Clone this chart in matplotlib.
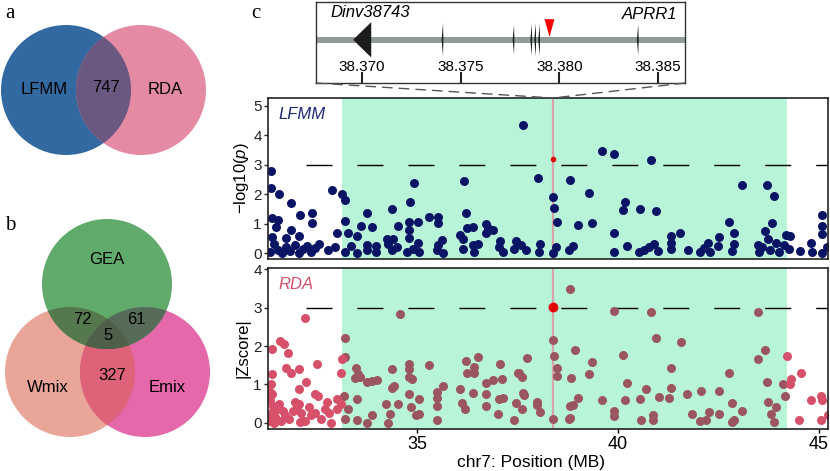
import numpy as np
import matplotlib.pyplot as plt
from matplotlib.patches import Circle, Polygon, ConnectionPatch

plt.rcParams['font.family'] = ['Liberation Sans', 'DejaVu Sans']
plt.rcParams['mathtext.fontset'] = 'custom'
plt.rcParams['mathtext.rm'] = 'Liberation Sans'
plt.rcParams['mathtext.it'] = 'Liberation Sans:italic'
plt.rcParams['lines.scale_dashes'] = False

# ---- data ----
venn_a_sets = ['LFMM', 'RDA']
venn_a_shared = 747
venn_b_sets = ['GEA', 'Wmix', 'Emix']
venn_b_gw, venn_b_ge, venn_b_gwe, venn_b_we = 72, 61, 5, 327

snp_pos = 38.3795
region = (33.13, 44.2)
threshold = 3
lfmm_snp = 3.19
rda_snp = 3.02

lfmm_points = [
    (31.35, 2.78), (31.35, 2.21), (31.56, 2.02), (31.85, 1.71), (31.39, 1.18), (31.52, 1.13),
    (31.48, 0.90), (31.85, 0.79), (32.08, 1.28), (32.37, 1.35), (32.37, 1.03), (32.04, 0.57),
    (31.74, 0.50), (31.39, 0.56), (32.87, 2.15), (33.12, 2.02), (33.2, 1.81), (33.2, 1.08),
    (33.01, 0.67), (33.28, 0.68), (33.49, 0.57), (33.59, 0.92), (33.75, 1.37), (33.87, 0.88),
    (33.74, 0.27), (33.97, 0.25), (34.37, 1.50), (34.53, 0.93), (34.4, 0.48), (34.24, 0.48),
    (34.91, 2.38), (34.81, 1.75), (34.78, 1.05), (34.78, 0.79), (35.02, 1.07), (35.02, 0.34),
    (34.78, 0.53), (35.29, 1.22), (35.51, 1.22), (35.51, 1.03), (35.62, 0.44), (35.51, 0.27),
    (36.17, 2.44), (36.2, 1.35), (36.24, 0.84), (36.39, 0.88), (36.07, 0.62), (36.13, 0.48),
    (36.38, 0.28), (36.72, 0.99), (36.76, 0.85), (36.89, 0.80), (36.7, 0.70), (37.07, 0.42),
    (37.45, 0.40), (37.62, 4.35), (38.01, 2.56), (38.8, 2.49), (38.38, 1.90), (38.4, 1.52),
    (38.49, 1.05), (38.99, 0.97), (39.28, 2.05), (39.34, 1.01), (39.59, 3.46), (39.9, 3.37),
    (39.9, 0.70), (40.18, 1.75), (40.13, 1.47), (40.55, 1.49), (40.95, 1.43), (40.81, 3.17),
    (41.32, 0.59), (41.32, 0.36), (41.55, 0.70), (42.51, 0.56), (42.76, 1.05), (42.9, 0.67),
    (43.09, 2.30), (43.7, 2.32), (43.89, 1.94), (43.84, 1.03), (43.66, 0.74), (43.74, 0.48),
    (43.93, 0.34), (44.18, 0.63), (44.28, 0.57), (44.8, 0.33), (45.09, 1.30), (45.07, 0.91),
    (45.07, 0.65), (38.05, 0.31), (42.24, 0.36), (43.49, 0.28),
    (31.33, 0.05), (31.43, 0.30), (31.53, 0.12), (31.63, 0.02), (31.73, 0.20), (31.83, 0.08),
    (31.95, 0.28), (32.05, 0.00), (32.15, 0.15), (32.25, 0.25), (32.35, 0.05), (32.45, 0.18),
    (32.55, 0.30), (32.78, 0.10), (32.95, 0.22), (33.2, 0.05), (33.35, 0.25), (33.5, 0.02),
    (33.75, 0.10), (33.97, 0.05), (34.28, 0.30), (34.38, 0.10), (34.5, 0.20), (34.75, 0.03),
    (34.88, 0.15), (35.03, 0.05), (35.5, 0.10), (35.65, 0.02), (36.13, 0.15), (36.4, 0.05),
    (36.5, 0.30), (37.03, 0.20), (37.13, 0.05), (37.4, 0.15), (37.58, 0.28), (37.7, 0.10),
    (38.03, 0.05), (38.38, 0.02), (38.45, 0.20), (38.78, 0.10), (38.88, 0.25), (39.9, 0.05),
    (40.22, 0.25), (40.52, 0.03), (40.65, 0.12), (40.77, 0.20), (40.9, 0.30), (41.0, 0.08),
    (41.33, 0.15), (41.75, 0.10), (42.03, 0.03), (42.15, 0.18), (42.28, 0.05), (42.5, 0.25),
    (42.83, 0.08), (42.9, 0.30), (43.5, 0.05), (43.58, 0.22), (43.78, 0.10), (44.0, 0.03),
    (44.13, 0.28), (44.25, 0.15), (44.53, 0.08), (44.83, 0.05), (45.08, 0.02), (45.2, 0.20),
]

rda_points = [
    (32.2, 2.72), (34.575, 2.83), (31.575, 2.13), (31.68, 2.04), (31.39, 1.91), (31.77, 1.81),
    (31.39, 1.26), (31.74, 1.43), (31.86, 1.29), (32.05, 1.39), (32.51, 1.52), (32.22, 1.07),
    (31.36, 1.00), (31.39, 0.75), (32.05, 0.87), (32.45, 0.75), (32.53, 0.70), (32.76, 0.55),
    (33.01, 0.61), (33.09, 1.29), (33.12, 1.65), (33.2, 2.22), (33.2, 1.72), (33.17, 0.70),
    (33.28, 0.35), (33.2, 0.10), (33.46, 1.43), (33.45, 1.17), (33.53, 1.26), (33.57, 1.20),
    (33.49, 0.62), (33.49, 0.07), (33.74, 1.07), (33.87, 1.09), (33.99, 1.11), (33.87, 0.20),
    (33.74, 0.00), (34.22, 0.49), (34.31, 0.24), (34.28, 0.00), (34.37, 1.40), (34.41, 0.97),
    (34.38, 0.90), (34.53, 0.48), (34.78, 1.52), (34.8, 1.40), (34.78, 1.20), (34.87, 1.13),
    (34.78, 0.75), (34.83, 0.42), (34.96, 0.20), (35.03, 0.61), (35.05, 0.22), (35.3, 1.50),
    (35.49, 0.81), (35.5, 0.64), (35.5, 0.44), (35.49, 0.07), (35.64, 0.97), (36.21, 1.61),
    (36.41, 1.46), (36.52, 1.72), (36.24, 1.29), (36.4, 1.29), (36.07, 0.87), (36.11, 0.51),
    (36.18, 0.36), (36.39, 0.78), (36.72, 1.04), (36.89, 1.11), (36.72, 0.75), (36.72, 0.44),
    (37.07, 1.52), (37.1, 1.13), (37.03, 0.61), (37.13, 0.64), (37.01, 0.22), (37.4, 0.07),
    (37.45, 0.51), (37.52, 1.29), (38.8, 3.48), (39.9, 2.91), (40.82, 2.89), (43.49, 2.88),
    (40.95, 2.22), (41.56, 2.10), (38.38, 2.16), (38.92, 1.90), (38.4, 1.75), (37.74, 1.68),
    (39.34, 1.59), (40.13, 1.77), (43.66, 1.90), (43.49, 1.66), (44.22, 1.75), (38.49, 1.43),
    (38.47, 1.23), (38.83, 1.18), (39.28, 1.26), (37.53, 1.30), (37.61, 1.20), (41.32, 1.44),
    (42.76, 1.31), (44.55, 1.29), (44.3, 1.13), (44.28, 1.01), (44.1, 1.01), (43.7, 1.07),
    (40.22, 1.03), (40.7, 0.87), (41.32, 0.92), (42.07, 0.83), (42.51, 0.83), (37.64, 0.78),
    (37.66, 0.72), (39.01, 0.65), (38.89, 0.46), (38.8, 0.43), (39.6, 0.59), (40.18, 0.59),
    (40.55, 0.61), (41.03, 0.68), (41.26, 0.65), (41.73, 0.74), (44.16, 0.70), (44.81, 0.59),
    (45.06, 0.70), (45.08, 0.59), (37.61, 0.36), (37.97, 0.53), (37.99, 0.46), (38.05, 0.29),
    (38.37, 0.09), (38.78, 0.10), (38.81, 0.12), (39.9, 0.30), (39.9, 0.17), (40.86, 0.20),
    (40.88, 0.07), (40.58, 0.07), (41.83, 0.22), (42.03, 0.05), (42.18, 0.07), (42.26, 0.29),
    (42.51, 0.24), (42.85, 0.51), (42.83, 0.03), (42.88, 0.07), (43.1, 0.31), (43.74, 0.53),
    (43.93, 0.42), (43.82, 0.22), (43.89, 0.03), (44.51, 0.07), (45.06, 0.07), (45.22, 0.20),
    (31.30, 0.05), (31.35, 0.25), (31.40, 0.45), (31.32, 0.60), (31.45, 0.15), (31.50, 0.35),
    (31.55, 0.50), (31.60, 0.05), (31.65, 0.30), (31.70, 0.20), (31.42, 0.00), (31.80, 0.10),
    (31.90, 0.30), (31.95, 0.55), (32.00, 0.45), (32.10, 0.25), (32.15, 0.05), (32.05, 0.50),
    (32.30, 0.42), (32.35, 0.20), (32.08, 0.02), (32.20, 0.05), (32.45, 0.25), (32.80, 0.25),
    (32.85, 0.00), (33.00, 0.35), (33.10, 0.48), (32.60, 0.10), (32.70, 0.35), (31.33, 0.80),
]

gene_ticks = [38.370, 38.375, 38.380, 38.385]
gene_xlim = (38.36766, 38.38637)
dinv_gene = (38.36954, 38.37046)
small_exons = [38.3741, 38.3777, 38.3786, 38.3788, 38.3790, 38.3840]
exon_heights = [17, 15, 16, 17, 16, 16]

navy = '#0a1464'
mint = '#b8f5d8'
rda_in = '#9b555f'
rda_out = '#d7506a'

W, H = 830, 471
fig = plt.figure(figsize=(8.3, 4.71), dpi=100)


def fa(l, t, r, b):
    return [l / W, 1 - b / H, (r - l) / W, (b - t) / H]


ax1 = fig.add_axes(fa(268, 98, 828, 259))
ax2 = fig.add_axes(fa(268, 268, 828, 429))
axg = fig.add_axes(fa(316, 1.5, 685, 83))
axv = fig.add_axes([0, 0, 220 / W, 1])

xlim = (31.28, 45.23)

# ---- LFMM ----
lx, ly = zip(*lfmm_points)
ax1.axvspan(*region, color=mint, lw=0, zorder=0)
ax1.axvline(snp_pos, color='#d9a3aa', lw=1.6, zorder=1)
ax1.axhline(threshold, xmin=0.068, color='k', lw=1, ls=(0, (18.7, 18)), zorder=1)
ax1.scatter(lx, ly, s=42, color=navy, lw=0, zorder=2)
ax1.scatter([snp_pos], [lfmm_snp], s=16, color='#e00000', lw=0, zorder=3)
ax1.set_xlim(xlim)
ax1.set_ylim(-0.2, 5.27)
ax1.set_yticks([0, 1, 2, 3, 4, 5])
ax1.set_xticks([])
ax1.set_ylabel(r'$\mathregular{-log10(}\mathit{p}\mathregular{)}$', fontsize=12)
ax1.yaxis.set_label_coords(-0.03, 0.5)
ax1.text(0.018, 0.9, 'LFMM', transform=ax1.transAxes, color='#1f2a7a',
         style='italic', fontsize=12, va='center')

# ---- RDA ----
rx, ry = zip(*rda_points)
rx = np.array(rx)
ry = np.array(ry)
inside = (rx >= region[0]) & (rx <= region[1])
ax2.axvspan(*region, color=mint, lw=0, zorder=0)
ax2.axvline(snp_pos, color='#d9a3aa', lw=1.6, zorder=1)
ax2.axhline(threshold, xmin=0.068, color='k', lw=1, ls=(0, (18.7, 18)), zorder=1)
ax2.scatter(rx[inside], ry[inside], s=42, color=rda_in, lw=0, zorder=2)
ax2.scatter(rx[~inside], ry[~inside], s=42, color=rda_out, lw=0, zorder=2)
ax2.scatter([snp_pos], [rda_snp], s=50, color='#e00000', lw=0, zorder=3)
ax2.set_xlim(xlim)
ax2.set_ylim(-0.16, 4.03)
ax2.set_yticks([0, 1, 2, 3, 4])
ax2.set_xticks([35, 40, 45])
ax2.set_ylabel('|Zscore|', fontsize=12)
ax2.yaxis.set_label_coords(-0.032, 0.5)
ax2.set_xlabel('chr7: Position (MB)', fontsize=12.5)
ax2.xaxis.set_label_coords(0.47, -0.16)
ax2.text(0.018, 0.9, 'RDA', transform=ax2.transAxes, color=rda_out,
         style='italic', fontsize=12, va='center')

for ax in (ax1, ax2):
    for sp in ax.spines.values():
        sp.set_linewidth(1.2)
        sp.set_color('#222222')
    ax.tick_params(axis='y', length=3, width=1, labelsize=11, pad=1.5, colors='#222222')
ax2.tick_params(axis='x', length=3, width=1, labelsize=13, pad=2)

# ---- gene track ----
axg.set_xlim(gene_xlim)
axg.set_ylim(83, 0)
axg.axhspan(36, 42, color='#909b97', lw=0, zorder=1)
axg.add_patch(Polygon([(dinv_gene[0], 39), (dinv_gene[1], 21), (dinv_gene[1], 57)],
                      closed=True, color='#1c1c1c', lw=0, zorder=2))
for ex, hh in zip(small_exons, exon_heights):
    w = 0.00007
    axg.add_patch(Polygon([(ex - w, 39), (ex, 39 - hh), (ex + w * 0.3, 39), (ex, 39 + hh)],
                          closed=True, color='#1c1c1c', lw=0, zorder=2))
axg.add_patch(Polygon([(snp_pos - 0.00025, 18), (snp_pos + 0.00025, 18), (snp_pos, 36)],
                      closed=True, color='#ff0000', lw=0, zorder=3))
axg.set_xticks(gene_ticks)
axg.set_yticks([])
axg.tick_params(axis='x', direction='in', length=8, width=1.5, labelbottom=False, colors='#222222')
for t in gene_ticks:
    axg.text(t, 67, f'{t:.3f}', ha='center', va='center', fontsize=11)
axg.text(38.3684, 11, 'Dinv38743', style='italic', fontsize=12, ha='left', va='center')
axg.text(38.38597, 13, 'APRR1', style='italic', fontsize=12, ha='right', va='center')
for sp in axg.spines.values():
    sp.set_linewidth(1)
    sp.set_color('#333333')

for xyA in [(0, 0), (1, 0)]:
    con = ConnectionPatch(xyA=xyA, coordsA=axg.transAxes,
                          xyB=(snp_pos, ax1.get_ylim()[1]), coordsB=ax1.transData,
                          color='#555555', lw=1, ls=(0, (7, 5)))
    fig.add_artist(con)

# ---- venn diagrams ----
axv.set_xlim(0, 220)
axv.set_ylim(471, 0)
axv.axis('off')


def lens(c1, r1, c2, r2, n=400):
    th = np.linspace(0, 2 * np.pi, n)
    p1 = np.c_[c1[0] + r1 * np.cos(th), c1[1] + r1 * np.sin(th)]
    p2 = np.c_[c2[0] + r2 * np.cos(th), c2[1] + r2 * np.sin(th)]
    p1 = p1[np.hypot(p1[:, 0] - c2[0], p1[:, 1] - c2[1]) <= r2]
    p2 = p2[np.hypot(p2[:, 0] - c1[0], p2[:, 1] - c1[1]) <= r1]
    pts = np.vstack([p1, p2])
    m = pts.mean(axis=0)
    order = np.argsort(np.arctan2(pts[:, 1] - m[1], pts[:, 0] - m[0]))
    return pts[order]


# a
ca, cb, r = (66, 90), (141, 90), 65
A = Circle(ca, r, fc='#3269a0', ec='none', zorder=1)
B = Circle(cb, r, fc='#e58aa3', ec='none', zorder=1)
axv.add_patch(A)
axv.add_patch(B)
AB = Circle(cb, r, fc='#6a5880', ec='none', zorder=2)
axv.add_patch(AB)
AB.set_clip_path(A)
axv.text(44, 90, venn_a_sets[0], fontsize=12, ha='center', va='center', zorder=5)
axv.text(165, 90, venn_a_sets[1], fontsize=12, ha='center', va='center', zorder=5)
axv.text(106, 88, str(venn_a_shared), fontsize=12, ha='center', va='center', zorder=5)

# b
cg, cw, ce, rb = (107, 284), (70, 372), (145, 372), 65
Wc = Circle(cw, rb, fc='#e9a598', ec='none', zorder=1)
Ec = Circle(ce, rb, fc='#e468aa', ec='none', zorder=1)
Gc = Circle(cg, rb, fc='#60aa6b', ec='none', zorder=1)
for p in (Wc, Ec, Gc):
    axv.add_patch(p)
WE = Circle(ce, rb, fc='#de6278', ec='none', zorder=2)
axv.add_patch(WE)
WE.set_clip_path(Wc)
GW = Circle(cg, rb, fc='#55784e', ec='none', zorder=2)
axv.add_patch(GW)
GW.set_clip_path(Wc)
GE = Circle(cg, rb, fc='#566c58', ec='none', zorder=2)
axv.add_patch(GE)
GE.set_clip_path(Ec)
GWE = Polygon(lens(cg, rb, cw, rb), closed=True, fc='#4e6048', ec='none', zorder=3)
axv.add_patch(GWE)
GWE.set_clip_path(Ec)
axv.text(107, 259, venn_b_sets[0], fontsize=12, ha='center', va='center', zorder=5)
axv.text(48, 388, venn_b_sets[1], fontsize=12, ha='center', va='center', zorder=5)
axv.text(167, 388, venn_b_sets[2], fontsize=12, ha='center', va='center', zorder=5)
axv.text(82, 319, str(venn_b_gw), fontsize=12, ha='center', va='center', zorder=5)
axv.text(136, 319, str(venn_b_ge), fontsize=12, ha='center', va='center', zorder=5)
axv.text(108, 336, str(venn_b_gwe), fontsize=12, ha='center', va='center', zorder=5)
axv.text(112, 375, str(venn_b_we), fontsize=12, ha='center', va='center', zorder=5)

for lab, x, y in [('a', 5, 13), ('b', 5, 225), ('c', 251, 13)]:
    fig.text(x / W, 1 - y / H, lab, family='Liberation Serif', fontsize=15, va='center')

fig.savefig('out.png', dpi=100)
